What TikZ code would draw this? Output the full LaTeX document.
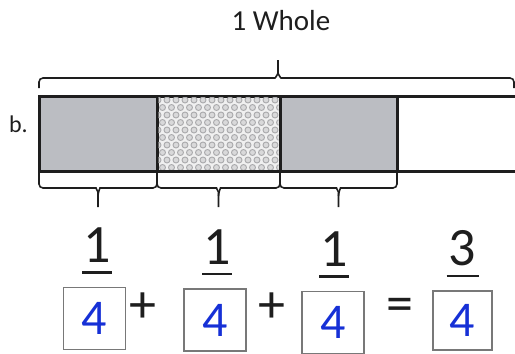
\documentclass[tikz,border=0pt]{standalone}
\usepackage{fontspec}
\setmainfont{Carlito}
\usepackage{xcolor}
\definecolor{ink}{RGB}{30,30,30}
\definecolor{cellgray}{RGB}{187,189,194}
\definecolor{dotback}{RGB}{240,240,240}
\definecolor{dotgray}{RGB}{160,160,163}
\definecolor{penblue}{RGB}{22,48,214}
\definecolor{boxline}{RGB}{120,120,120}
\usepackage{tikz}
\usetikzlibrary{positioning}

\begin{document}
\begin{tikzpicture}[
  x=1pt,y=-1pt,
  cell/.style={rectangle,draw=ink,line width=3pt,inner sep=0pt,
               outer sep=0pt,minimum height=75pt},
  barline/.style={draw=ink,line width=3pt},
  brace/.style={draw=ink,line width=1.6pt,rounded corners=4pt},
  answer/.style={rectangle,draw=boxline,line width=1.3pt,minimum size=62pt,
                 inner sep=0pt,text=penblue,font=\fontsize{50}{50}\selectfont},
  numer/.style={inner sep=0pt,text=ink,font=\fontsize{54}{54}\selectfont},
  fracbar/.style={draw=ink,line width=2.5pt},
  sign/.style={inner sep=0pt,text=ink,font=\fontsize{54}{54}\selectfont},
]
  \useasboundingbox (0,0) rectangle (515,354);
  % the bar
  \node[cell,fill=cellgray,minimum width=118pt](c1) at (98,133.5){};
  \node[cell,fill=dotback,minimum width=123pt,right=0pt of c1](c2){};
  \begin{scope}
    \clip ([shift={(1.5pt,-1.5pt)}]c2.north west) rectangle ([shift={(-1.5pt,1.5pt)}]c2.south east);
    \foreach \r in {0,...,9}
      \foreach \k in {0,...,14}
        \filldraw[fill=dotgray!40,draw=dotgray!90,line width=0.9pt]
          ({158+9*\k+4.5*mod(\r,2)},{100+7.5*\r}) circle (3pt);
  \end{scope}
  \node[cell,fill=cellgray,minimum width=117pt,right=0pt of c2](c3){};
  \node[rectangle,inner sep=0pt,outer sep=0pt,minimum height=75pt,
        minimum width=119pt,right=0pt of c3](c4){};
  \draw[barline] (c3.north east) -- (c4.north east);
  \draw[barline] (c3.south east) -- (c4.south east);
  \node[inner sep=0pt,text=ink,font=\fontsize{24}{24}\selectfont,
        left=11pt of c1,yshift=9pt](lbl){b.};

  % whole brace
  \coordinate (wtip) at (278,60);
  \draw[brace] ([yshift=8pt]c1.north west) |- ([xshift=-7pt,yshift=-18pt]wtip)
    to[out=0,in=-90] ([yshift=-9pt]wtip) -- (wtip);
  \draw[brace] (wtip) -- ([yshift=-9pt]wtip) to[out=-90,in=180]
    ([xshift=7pt,yshift=-18pt]wtip) -| ([xshift=-2pt,yshift=8pt]c4.north east);
  \node[inner sep=0pt,text=ink,font=\fontsize{29}{29}\selectfont,
        above=29pt of wtip,xshift=3pt](whole){1 Whole};

  % part braces
  \foreach \c in {c1,c2,c3}{
    \draw[brace] ([yshift=-2pt]\c.south west) |- ([xshift=-6pt,yshift=-17pt]\c.south)
      to[out=0,in=90] ([yshift=-25pt]\c.south) -- ([yshift=-36pt]\c.south);
    \draw[brace] ([yshift=-25pt]\c.south) to[out=90,in=180]
      ([xshift=6pt,yshift=-17pt]\c.south) -| ([yshift=-2pt]\c.south east);
  }

  % the sum
  \node[answer](b1) at (94.5,318.5){4};
  \node[answer](b2) at (215,320){4};
  \node[answer](b3) at (333,322.5){4};
  \node[answer,minimum size=59pt](b4) at (462.5,320.5){4};
  \node[numer,above=24pt of b1,xshift=2.5pt](n1){1};
  \node[numer,above=24pt of b2,xshift=2pt](n2){1};
  \node[numer,above=24pt of b3,xshift=1pt](n3){1};
  \node[numer,above=24pt of b4](n4){3};
  \draw[fracbar] ([xshift=-15pt,yshift=-9.5pt]n1.south) -- ([xshift=15pt,yshift=-9.5pt]n1.south);
  \draw[fracbar] ([xshift=-15pt,yshift=-9.5pt]n2.south) -- ([xshift=15pt,yshift=-9.5pt]n2.south);
  \draw[fracbar] ([xshift=-15pt,yshift=-9.5pt]n3.south) -- ([xshift=15pt,yshift=-9.5pt]n3.south);
  \draw[fracbar] ([xshift=-16pt,yshift=-9.5pt]n4.south) -- ([xshift=16pt,yshift=-9.5pt]n4.south);
  \node[sign](p1) at (143,308){+};
  \node[sign](p2) at (272,308){+};
  \node[sign](eq) at (400,310){=};
\end{tikzpicture}
\end{document}
